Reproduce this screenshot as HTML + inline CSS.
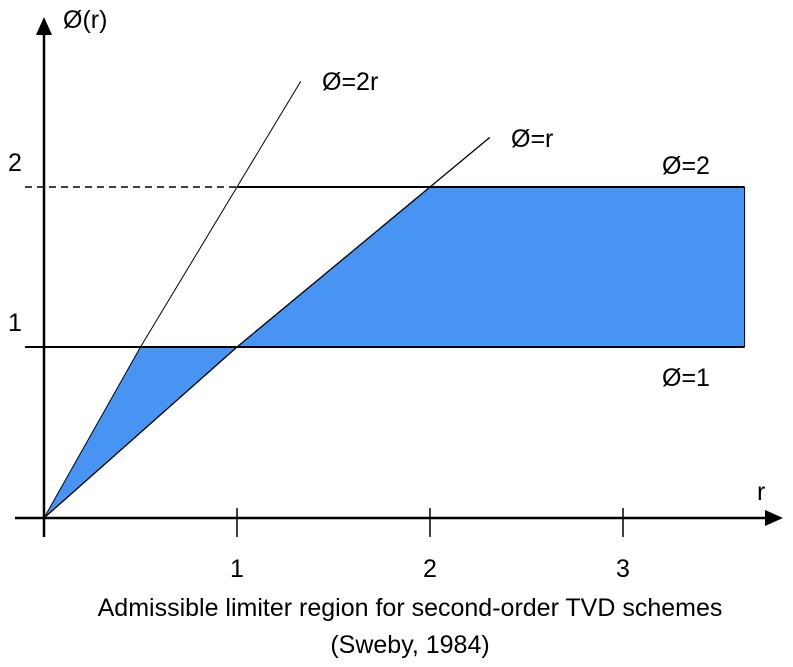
<!DOCTYPE html>
<html><head><meta charset="utf-8"><style>
html,body{margin:0;padding:0;background:#fff;}
svg{display:block;font-family:"Liberation Sans",Arial,sans-serif;}
</style></head><body>
<svg id="chart" width="793" height="667" viewBox="0 0 793 667" xmlns="http://www.w3.org/2000/svg"></svg>
<script>
// data
const xTicks = [1, 2, 3];
const yTicks = [1, 2];
const rMax = 3.63;
const line2rEnd = 1.33;   // r where Ø=2r line ends
const line1rEnd = 2.31;   // r where Ø=r line ends
const phiLow = 1, phiHigh = 2;

const NS = "http://www.w3.org/2000/svg";
const svg = document.getElementById('chart');
const X0 = 44, XU = 193;
function xs(r){ return X0 + r*XU; }
// piecewise vertical mapping: 0->518, 1->347, 2->187
function ys(v){
  if (v <= 1) return 518 - v*171;
  return 347 - (v-1)*160;
}
function mk(tag, attrs, name){
  const e = document.createElementNS(NS, tag);
  for (const k in attrs) e.setAttribute(k, attrs[k]);
  
  
  svg.appendChild(e);
  return e;
}
function txt(x, y, s, name, anchor){
  const t = mk('text', {x:x, y:y, 'font-size':25, fill:'#000', 'text-anchor':anchor||'start'}, name);
  t.textContent = s;
  return t;
}

// shaded region
const pts = [
  [0,0],[phiLow/2,phiLow],[phiLow,phiLow],[phiHigh,phiHigh],[rMax,phiHigh],[rMax,phiLow],[phiLow,phiLow],[0,0]
];
const poly = [[0,0],[phiLow/2,phiLow],[phiLow,phiLow],[rMax,phiLow],[rMax,phiHigh],[phiHigh,phiHigh],[phiLow,phiLow]];
mk('polygon', {points: poly.map(p=>xs(p[0])+','+ys(p[1])).join(' '), fill:'#4794F2', stroke:'none'}, 'admissible-region');
mk('line', {x1:xs(rMax), y1:ys(phiLow), x2:xs(rMax), y2:ys(phiHigh), stroke:'#000', 'stroke-width':1}, 'region-right-edge');

// horizontal lines
mk('line', {x1:25, y1:ys(phiLow), x2:xs(rMax), y2:ys(phiLow), stroke:'#000', 'stroke-width':2}, 'phi-1-line');
mk('line', {x1:25, y1:ys(phiHigh), x2:xs(phiHigh/2), y2:ys(phiHigh), stroke:'#000', 'stroke-width':1.5, 'stroke-dasharray':'7,5'}, 'phi-2-dashed-line');
mk('line', {x1:xs(phiHigh/2), y1:ys(phiHigh), x2:xs(rMax), y2:ys(phiHigh), stroke:'#000', 'stroke-width':2}, 'phi-2-line');

// diagonal lines
mk('polyline', {points:[[0,0],[0.5,1],[1,2],[line2rEnd,2*line2rEnd]].map(p=>xs(p[0])+','+ys(p[1])).join(' '), fill:'none', stroke:'#000', 'stroke-width':1}, 'phi-2r-line');
mk('polyline', {points:[[0,0],[1,1],[2,2],[line1rEnd,line1rEnd]].map(p=>xs(p[0])+','+ys(p[1])).join(' '), fill:'none', stroke:'#000', 'stroke-width':1.3}, 'phi-r-line');

// axes
mk('line', {x1:15, y1:518, x2:768, y2:518, stroke:'#000', 'stroke-width':2.5}, 'x-axis');
mk('polygon', {points:'783,518 765,510 765,526', fill:'#000'}, 'x-axis-arrow');
mk('line', {x1:44, y1:537, x2:44, y2:32, stroke:'#000', 'stroke-width':2.5}, 'y-axis');
mk('polygon', {points:'44,17 36,35 52,35', fill:'#000'}, 'y-axis-arrow');

xTicks.forEach(v=>{
  mk('line', {x1:xs(v), y1:508, x2:xs(v), y2:537, stroke:'#000', 'stroke-width':1.5}, 'x-tick-'+v);
  txt(xs(v), 577, String(v), 'x-tick-label-'+v, 'middle');
});
yTicks.forEach(v=>{
  txt(15, ys(v)-16, String(v), 'y-tick-label-'+v, 'middle');
});

// labels
txt(63, 28, 'Ø(r)', 'y-axis-title');
txt(757, 500, 'r', 'x-axis-title');
txt(322, 90, 'Ø=2r', 'phi-2r-label');
txt(511, 147, 'Ø=r', 'phi-r-label');
txt(662, 174, 'Ø=2', 'phi-2-label');
txt(662, 386, 'Ø=1', 'phi-1-label');
txt(410, 616, 'Admissible limiter region for second-order TVD schemes', 'caption-line-1', 'middle');
txt(410, 653, '(Sweby, 1984)', 'caption-line-2', 'middle');
</script>
</body></html>
